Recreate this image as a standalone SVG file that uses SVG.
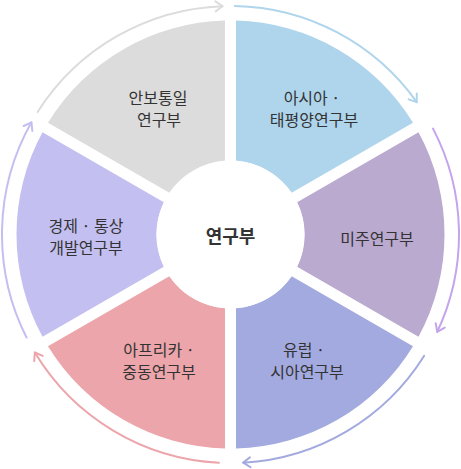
<svg xmlns="http://www.w3.org/2000/svg" xmlns:xlink="http://www.w3.org/1999/xlink" width="461" height="469" viewBox="0 0 461 469">
<style>
.lbl{font-family:"Noto Sans CJK KR","Noto Sans",sans-serif;font-size:16px;fill:#333;text-anchor:middle}
.ctr{font-family:"Noto Sans CJK KR","Noto Sans",sans-serif;font-size:18px;font-weight:bold;fill:#333;text-anchor:middle}
.arc{fill:none;stroke-width:2;stroke-linecap:round}
.ah{fill:none;stroke-width:2;stroke-linecap:round;stroke-linejoin:round}
</style>
<defs>
<path id="wedge" d="M5.5,-213.93 A214,214 0 0 1 182.52,-111.73 L61.16,-41.66 A74,74 0 0 0 5.5,-73.8 Z"/>
<marker id="m-gray" viewBox="-9 -7 11 14" refX="0" refY="0" markerWidth="11" markerHeight="14" markerUnits="userSpaceOnUse" orient="auto"><path class="ah" stroke="#dcdcdc" d="M-7,-5 L0,0 L-7,5"/></marker>
<marker id="m-blue" viewBox="-9 -7 11 14" refX="0" refY="0" markerWidth="11" markerHeight="14" markerUnits="userSpaceOnUse" orient="auto"><path class="ah" stroke="#afd5ec" d="M-7,-5 L0,0 L-7,5"/></marker>
<marker id="m-purple" viewBox="-9 -7 11 14" refX="0" refY="0" markerWidth="11" markerHeight="14" markerUnits="userSpaceOnUse" orient="auto"><path class="ah" stroke="#c4a4ec" d="M-7,-5 L0,0 L-7,5"/></marker>
<marker id="m-indigo" viewBox="-9 -7 11 14" refX="0" refY="0" markerWidth="11" markerHeight="14" markerUnits="userSpaceOnUse" orient="auto"><path class="ah" stroke="#a2aadf" d="M-7,-5 L0,0 L-7,5"/></marker>
<marker id="m-pink" viewBox="-9 -7 11 14" refX="0" refY="0" markerWidth="11" markerHeight="14" markerUnits="userSpaceOnUse" orient="auto"><path class="ah" stroke="#eca5aa" d="M-7,-5 L0,0 L-7,5"/></marker>
<marker id="m-lav" viewBox="-9 -7 11 14" refX="0" refY="0" markerWidth="11" markerHeight="14" markerUnits="userSpaceOnUse" orient="auto"><path class="ah" stroke="#c3bff0" d="M-7,-5 L0,0 L-7,5"/></marker>
</defs>
<rect width="461" height="469" fill="#fff"/>

<g id="connectors">
<path class="arc" stroke="#dcdcdc" marker-end="url(#m-gray)" d="M37.57,112.07 A228.5,228.5 0 0 1 222.53,6.14"/>
<path class="arc" stroke="#afd5ec" marker-end="url(#m-blue)" d="M234.89,6.04 A228.5,228.5 0 0 1 416.75,102.13"/>
<path class="arc" stroke="#c4a4ec" marker-end="url(#m-purple)" d="M433,128.64 A228.5,228.5 0 0 1 437.25,331.8"/>
<path class="arc" stroke="#a2aadf" marker-end="url(#m-indigo)" d="M424.06,355.92 A228.5,228.5 0 0 1 243.25,462.64"/>
<path class="arc" stroke="#eca5aa" marker-end="url(#m-pink)" d="M218.94,462.7 A228.5,228.5 0 0 1 34.84,352.52"/>
<path class="arc" stroke="#c3bff0" marker-end="url(#m-lav)" d="M26.54,337.53 A228.5,228.5 0 0 1 31.43,122.33"/>
</g>

<g id="asia-pacific">
<use xlink:href="#wedge" href="#wedge" fill="#afd5ec" transform="translate(230.5,234.5)"/>
<text class="lbl" x="312" y="104">아시아 ·</text>
<text class="lbl" x="314" y="126">태평양연구부</text>
</g>
<g id="americas">
<use xlink:href="#wedge" href="#wedge" fill="#bbaad0" transform="translate(230.5,234.5) rotate(60)"/>
<text class="lbl" x="377" y="245">미주연구부</text>
</g>
<g id="europe">
<use xlink:href="#wedge" href="#wedge" fill="#a2aadf" transform="translate(230.5,234.5) rotate(120)"/>
<text class="lbl" x="304" y="356">유럽 ·</text>
<text class="lbl" x="307" y="378">시아연구부</text>
</g>
<g id="africa-middle-east">
<use xlink:href="#wedge" href="#wedge" fill="#eca5aa" transform="translate(230.5,234.5) rotate(180)"/>
<text class="lbl" x="159" y="356">아프리카 ·</text>
<text class="lbl" x="159" y="378">중동연구부</text>
</g>
<g id="economy-trade">
<use xlink:href="#wedge" href="#wedge" fill="#c3bff0" transform="translate(230.5,234.5) rotate(240)"/>
<text class="lbl" x="86" y="232">경제 · 통상</text>
<text class="lbl" x="86" y="254">개발연구부</text>
</g>
<g id="security-unification">
<use xlink:href="#wedge" href="#wedge" fill="#dcdcdc" transform="translate(230.5,234.5) rotate(300)"/>
<text class="lbl" x="158" y="104">안보통일</text>
<text class="lbl" x="159" y="126">연구부</text>
</g>
<g id="center">
<circle cx="230.5" cy="234.5" r="74" fill="#fff"/>
<text class="ctr" x="230.5" y="243">연구부</text>
</g>
</svg>
